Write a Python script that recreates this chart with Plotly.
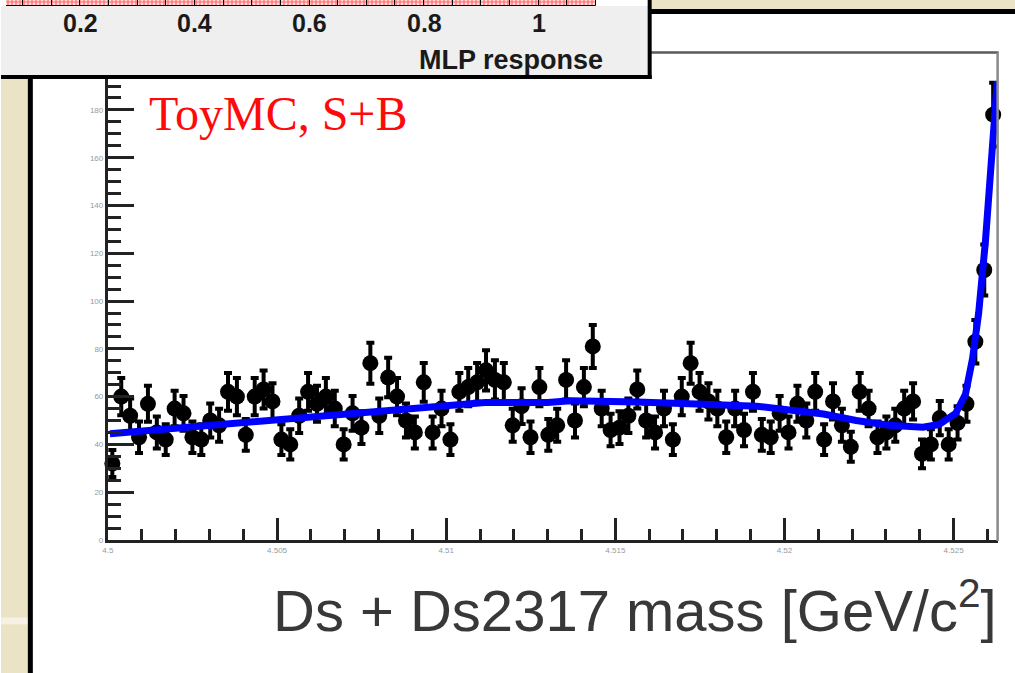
import numpy as np
import plotly.graph_objects as go

W, H = 1015, 673

# ---------------- data ----------------
mass_lo, mass_hi = 4.5, 4.5263
counts = [32, 60, 52, 43, 57, 45, 42, 55, 53, 43,
          42, 50, 48, 62, 60, 44, 60, 63, 58, 42,
          40, 52, 62, 57, 60, 55, 40, 53, 47, 74,
          52, 68, 60, 50, 45, 66, 45, 55, 42, 62,
          64, 66, 71, 67, 66, 48, 56, 43, 64, 44,
          48, 67, 50, 64, 81, 55, 46, 47, 52, 63,
          50, 45, 55, 42, 60, 74, 62, 58, 55, 43,
          55, 46, 62, 44, 43, 53, 45, 57, 50, 62,
          42, 58, 48, 39, 62, 55, 43, 45, 48, 55,
          58, 36, 40, 51, 40, 49, 57, 83, 113, 178]

fit_mass = [4.50006, 4.50174, 4.50368, 4.50565, 4.50712, 4.50821, 4.50968,
            4.51115, 4.51300, 4.51368, 4.51565, 4.51712, 4.51762, 4.51918,
            4.52015, 4.52115, 4.52212, 4.52309, 4.52409, 4.52456, 4.52506,
            4.52535, 4.52556, 4.52574, 4.52594, 4.52609, 4.52618, 4.52629]
fit_val = [44.5, 46.5, 49, 51.5, 53, 54, 56, 57.5, 57.5, 58.3, 57.8, 57.6,
           56.8, 56, 54.7, 52.7, 50, 48, 47.2, 48.3, 53, 61, 76, 95, 125,
           155, 175, 192]

x_tickvals = [4.5, 4.505, 4.51, 4.515, 4.52, 4.525]
x_ticktext = ["4.5", "4.505", "4.51", "4.515", "4.52", "4.525"]
y_tickvals = [0, 20, 40, 60, 80, 100, 120, 140, 160, 180, 200]
y_ticktext = ["0", "20", "40", "60", "80", "100", "120", "140", "160", "180", "200"]

# partially visible MLP response histogram (top strip)
mlp_edges = [0.05, 0.10, 0.15, 0.20, 0.25, 0.30, 0.35, 0.40, 0.45, 0.50, 0.55,
             0.60, 0.65, 0.70, 0.75, 0.80, 0.85, 0.90, 0.95, 1.00, 1.05, 1.10]
mlp_counts = [5, 5, 5, 5, 5, 5, 5, 5, 5, 5, 5, 5, 5, 5, 5, 5, 5, 5, 5, 5, 5]
mlp_ticks = [0.2, 0.4, 0.6, 0.8, 1.0]
mlp_ticklabels = ["0.2", "0.4", "0.6", "0.8", "1"]

# ---------------- helpers ----------------
def px(x):
    return x / W


def py(y):
    return 1 - y / H


nb = len(counts)
edges = np.linspace(mass_lo, mass_hi, nb + 1)
centers = 0.5 * (edges[:-1] + edges[1:])
errs = np.sqrt(np.array(counts, dtype=float))

mlp_e = np.array(mlp_edges)
mlp_c = 0.5 * (mlp_e[:-1] + mlp_e[1:])
mlp_w = np.diff(mlp_e)

fig = go.Figure()

fig.add_trace(go.Scatter(
    x=centers, y=counts, mode="markers",
    marker=dict(color="black", size=16, symbol="circle"),
    error_y=dict(type="data", array=errs, color="black", thickness=4, width=4),
    xaxis="x", yaxis="y", showlegend=False, cliponaxis=False))

fig.add_trace(go.Scatter(
    x=fit_mass, y=fit_val, mode="lines",
    line=dict(color="#0000ff", width=7),
    xaxis="x", yaxis="y", showlegend=False, cliponaxis=False))

fig.add_trace(go.Bar(
    x=mlp_c, y=mlp_counts, width=mlp_w,
    marker=dict(color="white", line=dict(color="black", width=1),
                pattern=dict(shape=".", fgcolor="#ff0000", size=4, solidity=0.7)),
    xaxis="x2", yaxis="y2", showlegend=False))

beige = "#ebe3c5"
shapes = []
# slide background
shapes.append(dict(type="rect", xref="paper", yref="paper", x0=px(646), x1=px(1025),
                   y0=py(10), y1=py(-5), fillcolor=beige, line=dict(width=0), layer="above"))
shapes.append(dict(type="rect", xref="paper", yref="paper", x0=px(-5), x1=px(23),
                   y0=py(680), y1=py(76), fillcolor=beige, line=dict(width=0), layer="above"))
shapes.append(dict(type="rect", xref="paper", yref="paper", x0=px(-5), x1=px(23),
                   y0=py(629), y1=py(622), fillcolor="#f6f1e2", line=dict(width=0), layer="above"))
# white panel black border
shapes.append(dict(type="line", xref="paper", yref="paper", x0=px(24.5), x1=px(24.5),
                   y0=py(76), y1=py(690), line=dict(color="black", width=5), layer="above"))
shapes.append(dict(type="line", xref="paper", yref="paper", x0=px(645), x1=px(1025),
                   y0=py(11.5), y1=py(11.5), line=dict(color="black", width=5), layer="above"))
# frame (top / right)
shapes.append(dict(type="line", xref="paper", yref="paper", x0=px(103), x1=px(998.5),
                   y0=py(53), y1=py(53), line=dict(color="#5a5a5a", width=2.5), layer="above"))
shapes.append(dict(type="line", xref="paper", yref="paper", x0=px(997.5), x1=px(997.5),
                   y0=py(53), y1=py(545), line=dict(color="#8a8a8a", width=2.5), layer="above"))
# gray MLP box
shapes.append(dict(type="rect", xref="paper", yref="paper", x0=px(-5), x1=px(646),
                   y0=py(77), y1=py(6), fillcolor="#efefef", line=dict(width=0), layer="above"))
shapes.append(dict(type="line", xref="paper", yref="paper", x0=px(647.5), x1=px(647.5),
                   y0=py(79.5), y1=py(-5), line=dict(color="black", width=4), layer="above"))
shapes.append(dict(type="line", xref="paper", yref="paper", x0=px(-5), x1=px(649.5),
                   y0=py(77.5), y1=py(77.5), line=dict(color="black", width=4), layer="above"))

annotations = []
for v, t in zip(mlp_ticks, mlp_ticklabels):
    annotations.append(dict(x=v, xref="x2", y=py(23), yref="paper", text=t,
                            showarrow=False, xanchor="center", yanchor="middle",
                            font=dict(family="Liberation Sans", size=25, color="#1a1a1a",
                                      weight="bold")))
annotations.append(dict(x=px(603), xref="paper", y=py(60), yref="paper", text="MLP response",
                        showarrow=False, xanchor="right", yanchor="middle",
                        font=dict(family="Liberation Sans", size=27, color="#1a1a1a",
                                  weight="bold")))
annotations.append(dict(x=px(142), xref="paper", y=py(114), yref="paper", text="ToyMC, S+B",
                        showarrow=False, xanchor="left", yanchor="middle",
                        font=dict(family="Liberation Serif", size=48, color="#ff0a0a")))
annotations.append(dict(x=px(999), xref="paper", y=py(611), yref="paper",
                        text="Ds + Ds2317 mass [GeV/c<sup>2</sup>]",
                        showarrow=False, xanchor="right", yanchor="middle",
                        font=dict(family="Liberation Sans", size=58, color="#383838")))

fig.update_layout(
    width=W, height=H, autosize=False,
    margin=dict(l=0, r=0, t=0, b=0),
    paper_bgcolor="white", plot_bgcolor="rgba(0,0,0,0)",
    shapes=shapes, annotations=annotations,
    xaxis=dict(domain=[px(102.5), px(997.5)], range=[mass_lo, mass_hi], anchor="y",
               showgrid=False, zeroline=False, showline=True, linecolor="#222",
               linewidth=3, ticks="inside", ticklen=22, tickwidth=2.5, tickcolor="#222",
               tickmode="array", tickvals=x_tickvals, ticktext=x_ticktext,
               tickfont=dict(family="Liberation Sans", size=8, color="#999"),
               minor=dict(tick0=4.5, dtick=0.001, ticks="inside", ticklen=11,
                          tickwidth=2.5, tickcolor="#222", showgrid=False)),
    yaxis=dict(domain=[py(544), py(53)], range=[0, 204], anchor="x",
               showgrid=False, zeroline=False, showline=True, linecolor="#222",
               linewidth=3, ticks="inside", ticklen=26, tickwidth=3, tickcolor="#222",
               tickmode="array", tickvals=y_tickvals, ticktext=y_ticktext,
               tickfont=dict(family="Liberation Sans", size=8, color="#999"),
               minor=dict(tick0=0, dtick=5, ticks="inside", ticklen=13,
                          tickwidth=3, tickcolor="#222", showgrid=False)),
    xaxis2=dict(domain=[0, px(646)], range=[0.070, 1.1913], anchor="y2", visible=False),
    yaxis2=dict(domain=[py(6), 1], range=[0, 1], anchor="x2", visible=False),
    bargap=0,
)

fig.write_html("out.html", config={"displayModeBar": False},
               post_script="document.body.style.margin='0';document.body.style.overflow='hidden';")
